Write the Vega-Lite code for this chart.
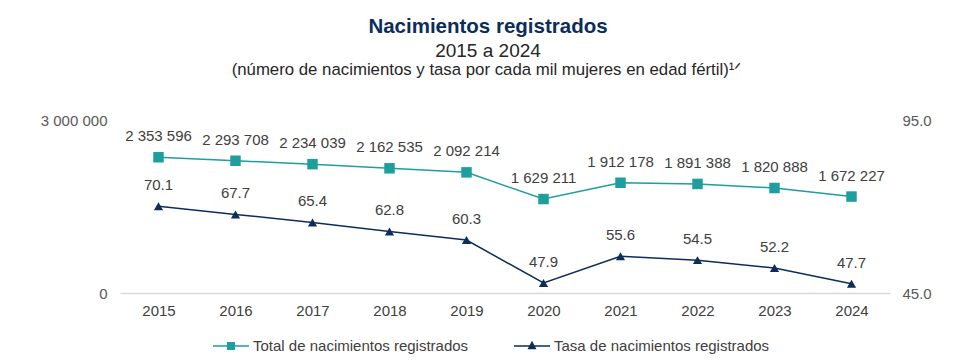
{
  "$schema": "https://vega.github.io/schema/vega-lite/v6.json",
  "width": 770,
  "height": 173,
  "autosize": {"type": "none"},
  "padding": {"left": 120, "top": 120, "right": 90, "bottom": 68},
  "config": {
    "locale": {"number": {"decimal": ".", "thousands": " ", "grouping": [3], "currency": ["$", ""]}},
    "view": {"stroke": null},
    "font": "Liberation Sans"
  },
  "title": {
    "text": "Nacimientos registrados",
    "subtitle": "2015 a 2024",
    "fontSize": 20.5,
    "fontWeight": "bold",
    "color": "#0b2d5b",
    "subtitleFontSize": 19,
    "subtitleColor": "#262626",
    "subtitlePadding": 5,
    "anchor": "middle",
    "dx": -17,
    "offset": 0
  },
  "data": {
    "values": [
      {"anio": "2015", "total": 2353596, "tasa": 70.1},
      {"anio": "2016", "total": 2293708, "tasa": 67.7},
      {"anio": "2017", "total": 2234039, "tasa": 65.4},
      {"anio": "2018", "total": 2162535, "tasa": 62.8},
      {"anio": "2019", "total": 2092214, "tasa": 60.3},
      {"anio": "2020", "total": 1629211, "tasa": 47.9},
      {"anio": "2021", "total": 1912178, "tasa": 55.6},
      {"anio": "2022", "total": 1891388, "tasa": 54.5},
      {"anio": "2023", "total": 1820888, "tasa": 52.2},
      {"anio": "2024", "total": 1672227, "tasa": 47.7}
    ]
  },
  "layer": [
    {
      "encoding": {
        "x": {
          "field": "anio",
          "type": "ordinal",
          "axis": {
            "orient": "bottom",
            "title": null,
            "labelAngle": 0,
            "domain": true,
            "domainColor": "#d9d9d9",
            "domainWidth": 1.5,
            "ticks": false,
            "grid": false,
            "labelPadding": 10,
            "labelFontSize": 15,
            "labelColor": "#404040"
          }
        },
        "y": {
          "field": "total",
          "type": "quantitative",
          "scale": {"domain": [0, 3000000], "nice": false, "zero": false},
          "axis": {
            "orient": "left",
            "title": null,
            "values": [0, 3000000],
            "format": ",d",
            "domain": false,
            "ticks": false,
            "grid": false,
            "labelPadding": 13,
            "labelFontSize": 15,
            "labelColor": "#595959"
          }
        }
      },
      "layer": [
        {
          "mark": {"type": "line", "strokeWidth": 1.5},
          "encoding": {
            "color": {
              "datum": "Total de nacimientos registrados",
              "type": "nominal",
              "scale": {
                "domain": ["Total de nacimientos registrados", "Tasa de nacimientos registrados"],
                "range": ["#1f9e9e", "#0d2d5a"]
              },
              "legend": {
                "title": null,
                "orient": "none",
                "direction": "horizontal",
                "legendX": 92,
                "legendY": 207,
                "symbolSize": 1296,
                "symbolStrokeWidth": 1.5,
                "labelFontSize": 15,
                "labelColor": "#404040",
                "labelOffset": 3,
                "labelLimit": 0,
                "columnPadding": 42,
                "encode": {
                  "symbols": {
                    "update": {
                      "shape": {"signal": "datum.value === 'Total de nacimientos registrados' ? 'M-1,0H1M-0.18,-0.18H0.18V0.18H-0.18Z' : 'M-1,0H1M0,-0.2L0.18,0.14H-0.18Z'"},
                      "fill": {"scale": "color", "field": "value"},
                      "stroke": {"scale": "color", "field": "value"},
                      "strokeWidth": {"value": 1.5},
                      "opacity": {"value": 1},
                      "fillOpacity": {"value": 1}
                    }
                  }
                }
              }
            }
          }
        },
        {
          "mark": {"type": "point", "shape": "square", "filled": true, "size": 110, "opacity": 1},
          "encoding": {
            "color": {"datum": "Total de nacimientos registrados", "type": "nominal"}
          }
        },
        {
          "mark": {"type": "text", "dy": -21, "baseline": "middle", "fontSize": 15, "color": "#404040"},
          "encoding": {
            "text": {"field": "total", "type": "quantitative", "format": ",d"}
          }
        }
      ]
    },
    {
      "encoding": {
        "x": {
          "field": "anio",
          "type": "ordinal",
          "axis": {
            "orient": "top",
            "title": "(número de nacimientos y tasa por cada mil mujeres en edad fértil)¹ᐟ",
            "titleFontSize": 16.8,
            "titleFontWeight": "normal",
            "titleColor": "#262626",
            "titlePadding": 42,
            "titleX": 366,
            "labels": false,
            "ticks": false,
            "domain": false,
            "grid": false
          }
        },
        "y": {
          "field": "tasa",
          "type": "quantitative",
          "scale": {"domain": [45, 95], "nice": false, "zero": false},
          "axis": {
            "orient": "right",
            "title": null,
            "values": [45, 95],
            "format": ".1f",
            "domain": false,
            "ticks": false,
            "grid": false,
            "labelPadding": 12,
            "labelFontSize": 15,
            "labelColor": "#595959"
          }
        }
      },
      "layer": [
        {
          "mark": {"type": "line", "strokeWidth": 1.5},
          "encoding": {
            "color": {"datum": "Tasa de nacimientos registrados", "type": "nominal"}
          }
        },
        {
          "mark": {"type": "point", "shape": "triangle-up", "filled": true, "size": 85, "opacity": 1},
          "encoding": {
            "color": {"datum": "Tasa de nacimientos registrados", "type": "nominal"}
          }
        },
        {
          "mark": {"type": "text", "dy": -21, "baseline": "middle", "fontSize": 15, "color": "#404040"},
          "encoding": {
            "text": {"field": "tasa", "type": "quantitative", "format": ".1f"}
          }
        }
      ]
    }
  ],
  "resolve": {"scale": {"y": "independent"}, "axis": {"x": "independent"}}
}
